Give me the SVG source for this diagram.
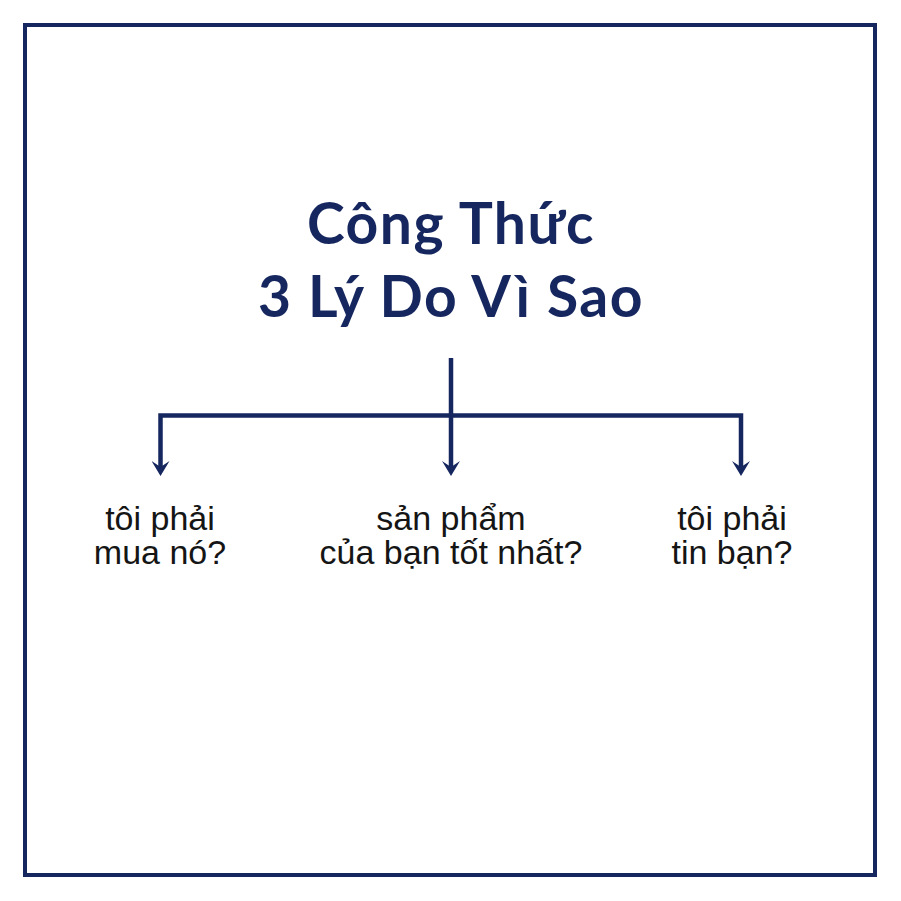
<svg xmlns="http://www.w3.org/2000/svg" width="901" height="901" viewBox="0 0 901 901">
<style>
.title{font-family:"Lato","Noto Sans","Liberation Sans",sans-serif;font-weight:700;font-size:57px;letter-spacing:1.5px;fill:#16275f;text-anchor:middle}
.lbl{font-family:"Liberation Sans","Arial",sans-serif;font-size:34px;fill:#151515;text-anchor:middle}
.con{fill:none;stroke:#16275f;stroke-width:4.5;stroke-linejoin:miter}
</style>
<defs>
<marker id="ah" viewBox="0 0 15 18" refX="7" refY="9" markerWidth="15" markerHeight="18" markerUnits="userSpaceOnUse" orient="auto-start-reverse">
<path d="M0 0 L15 9 L0 18 L6 9 Z" fill="#16275f"/>
</marker>
</defs>
<rect x="0" y="0" width="901" height="901" fill="#ffffff"/>
<rect x="25" y="25" width="850" height="850" fill="none" stroke="#16275f" stroke-width="4"/>
<g id="title">
<text class="title" x="451" y="244">Công Thức</text>
<text class="title" x="451" y="317">3 Lý Do Vì Sao</text>
</g>
<g id="connectors">
<path class="con" d="M160.5 468 V415.5 H741 V468" marker-start="url(#ah)" marker-end="url(#ah)"/>
<path class="con" d="M451 358 V468" marker-end="url(#ah)"/>
</g>
<g id="node-left">
<text class="lbl" x="160" y="530">tôi phải</text>
<text class="lbl" x="160" y="564">mua nó?</text>
</g>
<g id="node-middle">
<text class="lbl" x="451" y="530">sản phẩm</text>
<text class="lbl" x="451" y="564">của bạn tốt nhất?</text>
</g>
<g id="node-right">
<text class="lbl" x="732" y="530">tôi phải</text>
<text class="lbl" x="732" y="564">tin bạn?</text>
</g>
</svg>
